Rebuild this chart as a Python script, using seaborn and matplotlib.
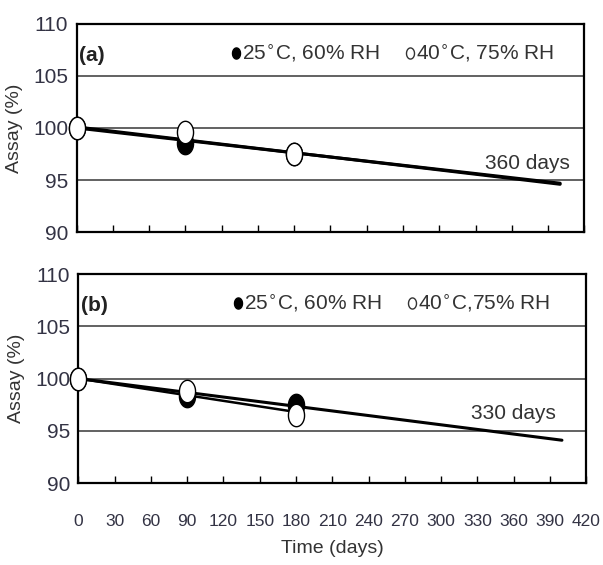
import numpy as np
import matplotlib
matplotlib.use('Agg')
import matplotlib.pyplot as plt
import seaborn as sns
import pandas as pd
from matplotlib.path import Path

sns.set_style('white')
plt.rcParams['font.family'] = ['Liberation Sans', 'DejaVu Sans']

# 数据
days = [0, 90, 180]
a_25 = [100.0, 98.6, 97.5]
a_40 = [100.0, 99.6, 97.5]
b_25 = [100.0, 98.3, 97.5]
b_40 = [100.0, 98.8, 96.5]

# 拟合线端点
a_fit_x = [0, 400]
a_fit_y1 = [100.1, 94.6]
a_fit_y2 = [100.0, 94.7]
b_fit_x = [0, 400]
b_fit_y = [100.0, 94.1]
b_fit2_x = [0, 180]
b_fit2_y = [100.0, 96.8]

xticks = list(range(0, 421, 30))
yticks = [90, 95, 100, 105, 110]
label_a = ['25$^{\\circ}$C, 60% RH', '40$^{\\circ}$C, 75% RH']
label_b = ['25$^{\\circ}$C, 60% RH', '40$^{\\circ}$C,75% RH']
notes = ['360 days', '330 days']

# 椭圆形标记
t = np.linspace(0, 2 * np.pi, 60)
ell = Path(np.column_stack([0.72 * np.cos(t), np.sin(t)]), closed=True)

fig = plt.figure(figsize=(6.03, 5.65), dpi=100)
ax1 = fig.add_axes([0.127, 0.589, 0.842, 0.369])
ax2 = fig.add_axes([0.130, 0.145, 0.842, 0.370])

txt_col = '#333344'


def draw(ax, y25, y40, fits, labels, tag, note, note_xy):
    for fx, fy, lw in fits:
        sns.lineplot(x=fx, y=fy, ax=ax, color='black', lw=lw, zorder=3)
    df = pd.DataFrame({'day': days * 2, 'assay': y25 + y40,
                       'cond': [labels[0]] * 3 + [labels[1]] * 3})
    sns.scatterplot(data=df[df.cond == labels[0]], x='day', y='assay', ax=ax,
                    marker=ell, s=260, color='black', edgecolor='black',
                    linewidth=1.0, zorder=4, clip_on=False)
    sns.scatterplot(data=df[df.cond == labels[1]], x='day', y='assay', ax=ax,
                    marker=ell, s=260, color='white', edgecolor='black',
                    linewidth=1.0, zorder=5, clip_on=False)
    ax.set_xlim(0, 420)
    ax.set_ylim(90, 110)
    ax.set_yticks(yticks)
    ax.set_xticks(xticks)
    for yv in [95, 100, 105]:
        ax.axhline(yv, color='#555555', lw=1.3, zorder=1)
    for s in ax.spines.values():
        s.set_linewidth(1.6)
        s.set_color('black')
    ax.tick_params(axis='x', direction='in', length=5, width=1, bottom=True,
                   labelsize=12.5, colors='black', labelcolor=txt_col, pad=22)
    ax.tick_params(axis='y', length=0, labelsize=15, labelcolor=txt_col, pad=6)
    ax.set_ylabel('Assay (%)', fontsize=14, color='#333333', labelpad=2)
    ax.yaxis.set_label_coords(-0.105, 0.5)
    ax.set_xlabel('')
    ax.text(0.005, 0.85, tag, transform=ax.transAxes, fontsize=15,
            fontweight='bold', color='#222222', va='center')
    ax.text(note_xy[0], note_xy[1], note, fontsize=15, color='#333333',
            ha='center', va='center')
    # 图例
    ax.plot(132, 107.2, marker=ell, ms=8, color='black', ls='none')
    ax.text(137, 107.2, labels[0], fontsize=15, color='#333333', va='center')
    ax.plot(276, 107.2, marker=ell, ms=8, mfc='white', mec='#333333', ls='none')
    ax.text(281, 107.2, labels[1], fontsize=15, color='#333333', va='center')


draw(ax1, a_25, a_40,
     [(a_fit_x, a_fit_y1, 2.2), (a_fit_x, a_fit_y2, 2.2)],
     label_a, '(a)', notes[0], (373, 96.6))
draw(ax2, b_25, b_40,
     [(b_fit_x, b_fit_y, 2.2), (b_fit2_x, b_fit2_y, 1.8)],
     label_b, '(b)', notes[1], (360, 96.7))

ax1.tick_params(axis='x', labelbottom=False)
ax2.set_xlabel('Time (days)', fontsize=14, color='#333333', labelpad=8)

fig.savefig('out.png', dpi=100)
